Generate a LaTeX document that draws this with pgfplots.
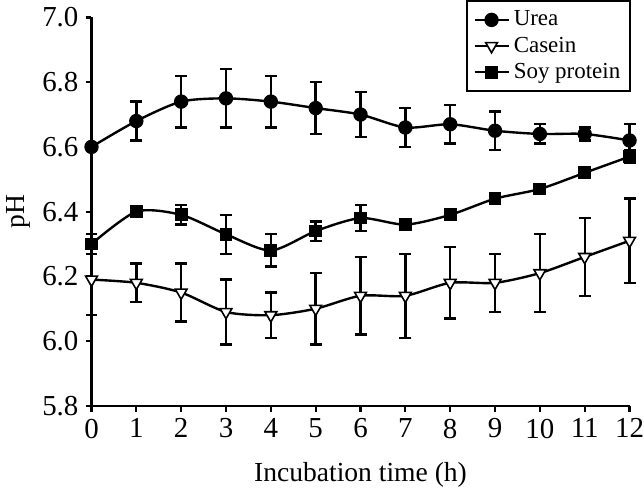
\documentclass[border=0pt]{standalone}
\usepackage{fontspec}
\setmainfont{Liberation Serif}
\usepackage{pgfplots}
\pgfplotsset{compat=1.18}

\begin{document}
\begin{tikzpicture}
\begin{axis}[
    scale only axis,
    width=269.5pt,
    height=194.5pt,
    axis lines=left,
    axis line style={line width=1.1pt,-},
    xmin=0, xmax=12,
    ymin=5.8, ymax=7.0,
    xtick={0,...,12},
    ytick={5.8,6.0,6.2,6.4,6.6,6.8,7.0},
    tick align=outside,
    major tick length=3pt,
    tick style={line width=1.1pt,black},
    yticklabel style={/pgf/number format/.cd,fixed,fixed zerofill,precision=1},
    x tick label style={inner xsep=0pt},
    /pgf/number format/assume math mode=true,
    tick label style={font=\fontsize{14.5}{17}\selectfont},
    xlabel={Incubation time (h)},
    ylabel={pH},
    label style={font=\fontsize{13.8}{16}\selectfont},
    xlabel style={yshift=-5pt},
    ylabel style={yshift=-1pt},
    clip=false,
    legend style={at={(1.003,1.045)},anchor=north east,draw=black,line width=0.9pt,
        font=\fontsize{11.5}{13}\selectfont,inner sep=3pt,row sep=0pt,
        cells={anchor=west}},
    legend cell align=left,
    every axis plot/.append style={line width=1.2pt,black,smooth,tension=0.45},
    error bars/y dir=both,
    error bars/y explicit,
    error bars/error bar style={line width=1.2pt,black},
    error bars/error mark options={rotate=90,mark size=3pt,line width=1.2pt,black},
]
\addplot[mark=*,mark size=3pt,mark options={fill=black,solid}] coordinates {
    (0,6.60) +- (0,0.01)
    (1,6.68) +- (0,0.06)
    (2,6.74) +- (0,0.08)
    (3,6.75) +- (0,0.09)
    (4,6.74) +- (0,0.08)
    (5,6.72) +- (0,0.08)
    (6,6.70) +- (0,0.07)
    (7,6.66) +- (0,0.06)
    (8,6.67) +- (0,0.06)
    (9,6.65) +- (0,0.06)
    (10,6.64) +- (0,0.03)
    (11,6.64) +- (0,0.02)
    (12,6.62) +- (0,0.05)
};
\addlegendentry{Urea}
\addplot[mark=triangle*,mark size=3.4pt,mark options={fill=white,rotate=180,solid,line width=0.8pt}] coordinates {
    (0,6.19) +- (0,0.11)
    (1,6.18) +- (0,0.06)
    (2,6.15) +- (0,0.09)
    (3,6.09) +- (0,0.10)
    (4,6.08) +- (0,0.07)
    (5,6.10) +- (0,0.11)
    (6,6.14) +- (0,0.12)
    (7,6.14) +- (0,0.13)
    (8,6.18) +- (0,0.11)
    (9,6.18) +- (0,0.09)
    (10,6.21) +- (0,0.12)
    (11,6.26) +- (0,0.12)
    (12,6.31) +- (0,0.13)
};
\addlegendentry{Casein}
\addplot[mark=square*,mark size=2.6pt,mark options={fill=black,solid}] coordinates {
    (0,6.30) +- (0,0.03)
    (1,6.40) +- (0,0.005)
    (2,6.39) +- (0,0.03)
    (3,6.33) +- (0,0.06)
    (4,6.28) +- (0,0.05)
    (5,6.34) +- (0,0.03)
    (6,6.38) +- (0,0.04)
    (7,6.36) +- (0,0.015)
    (8,6.39) +- (0,0.01)
    (9,6.44) +- (0,0.01)
    (10,6.47) +- (0,0.015)
    (11,6.52) +- (0,0.01)
    (12,6.57) +- (0,0.02)
};
\addlegendentry{Soy protein}
\end{axis}
\end{tikzpicture}
\end{document}
